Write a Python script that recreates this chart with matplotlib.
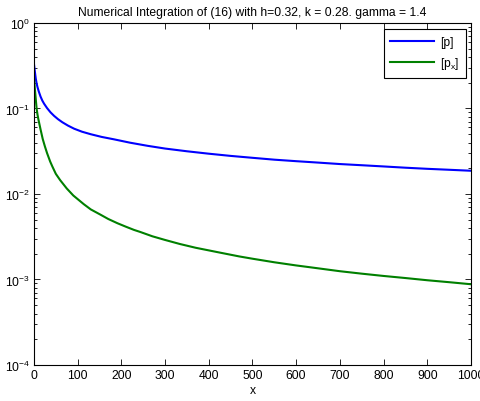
#!/usr/bin/env python
"""
Plots the numerical integration result on a semilog axis (MATLAB look).
"""

import matplotlib
matplotlib.use("Agg")
import matplotlib.pyplot as plt
from matplotlib.ticker import LogLocator, NullFormatter

fontSize = 8.7
plt.rc("font", family=["Liberation Sans", "DejaVu Sans"], size=fontSize)
plt.rc("mathtext", fontset="custom", rm="Liberation Sans", it="Liberation Sans:italic")

# Values
xP = [0, 2, 4, 6, 8, 11, 15, 19, 23, 30, 38, 46, 55, 65, 78, 92, 110, 130, 155, 183, 220,
      260, 300, 350, 400, 450, 500, 550, 600, 650, 700, 750, 800, 850, 900, 950, 1000]
p  = [0.33, 0.27, 0.225, 0.197, 0.178, 0.158, 0.138, 0.124, 0.114, 0.101, 0.090, 0.082,
      0.075, 0.069, 0.063, 0.058, 0.0535, 0.050, 0.0465, 0.0436, 0.0398, 0.0366, 0.0340,
      0.0316, 0.0296, 0.0279, 0.0265, 0.0252, 0.0242, 0.0233, 0.0224, 0.0217, 0.0210,
      0.0203, 0.0197, 0.0192, 0.0187]

xPx = [0, 2, 4, 6, 8, 10, 15, 20, 25, 30, 37, 42, 46, 50, 60, 75, 90, 114, 130, 153, 170,
       191, 210, 229, 243, 271, 300, 334, 370, 426, 470, 500, 550, 600, 632, 700, 750, 800,
       850, 900, 950, 1000]
px  = [0.23, 0.17, 0.13, 0.10, 0.085, 0.075, 0.057, 0.044, 0.036, 0.030, 0.024, 0.0210,
       0.0190, 0.0172, 0.0145, 0.0116, 0.0096, 0.0076, 0.0066, 0.0057, 0.0051, 0.00455,
       0.00415, 0.0038, 0.0036, 0.0032, 0.0029, 0.0026, 0.00235, 0.00206, 0.00186, 0.00175,
       0.00159, 0.00146, 0.00139, 0.00125, 0.00117, 0.00110, 0.00104, 0.00098, 0.00093,
       0.00088]

xTicks = list(range(0, 1001, 100))
titleText = "Numerical Integration of (16) with h=0.32, k = 0.28. gamma = 1.4"

fig = plt.figure(figsize=(4.8, 4.02), dpi=100)
ax = fig.add_axes([0.0708, 0.0896, 0.9102, 0.8507])

ax.semilogy(xP, p, color=(0, 0, 1), lw=1.5, label="[p]")
ax.semilogy(xPx, px, color=(0, 0.5, 0), lw=1.5, label="[p$_\\mathregular{x}$]")

ax.set_xlim(0, 1000)
ax.set_ylim(1e-4, 1e0)
ax.set_xticks(xTicks)
ax.yaxis.set_major_locator(LogLocator(base=10, numticks=10))
ax.yaxis.set_minor_locator(LogLocator(base=10, subs=range(2, 10), numticks=50))
ax.yaxis.set_minor_formatter(NullFormatter())

ax.tick_params(which="both", direction="in", top=True, right=True, labelsize=fontSize, pad=3)
ax.tick_params(which="major", length=4, width=0.6)
ax.tick_params(which="minor", length=2, width=0.6)
for spine in ax.spines.values():
    spine.set_linewidth(0.8)

ax.set_xlabel("x", labelpad=2)
ax.set_title(titleText, fontsize=fontSize, pad=6)

leg = ax.legend(loc="upper right", fancybox=False, framealpha=1, edgecolor="black",
                handlelength=3.6, borderpad=0.55, labelspacing=0.6, handletextpad=0.5,
                borderaxespad=0, bbox_to_anchor=(0.9886, 0.982))
leg.get_frame().set_linewidth(0.8)

fig.savefig("out.png", dpi=100)
